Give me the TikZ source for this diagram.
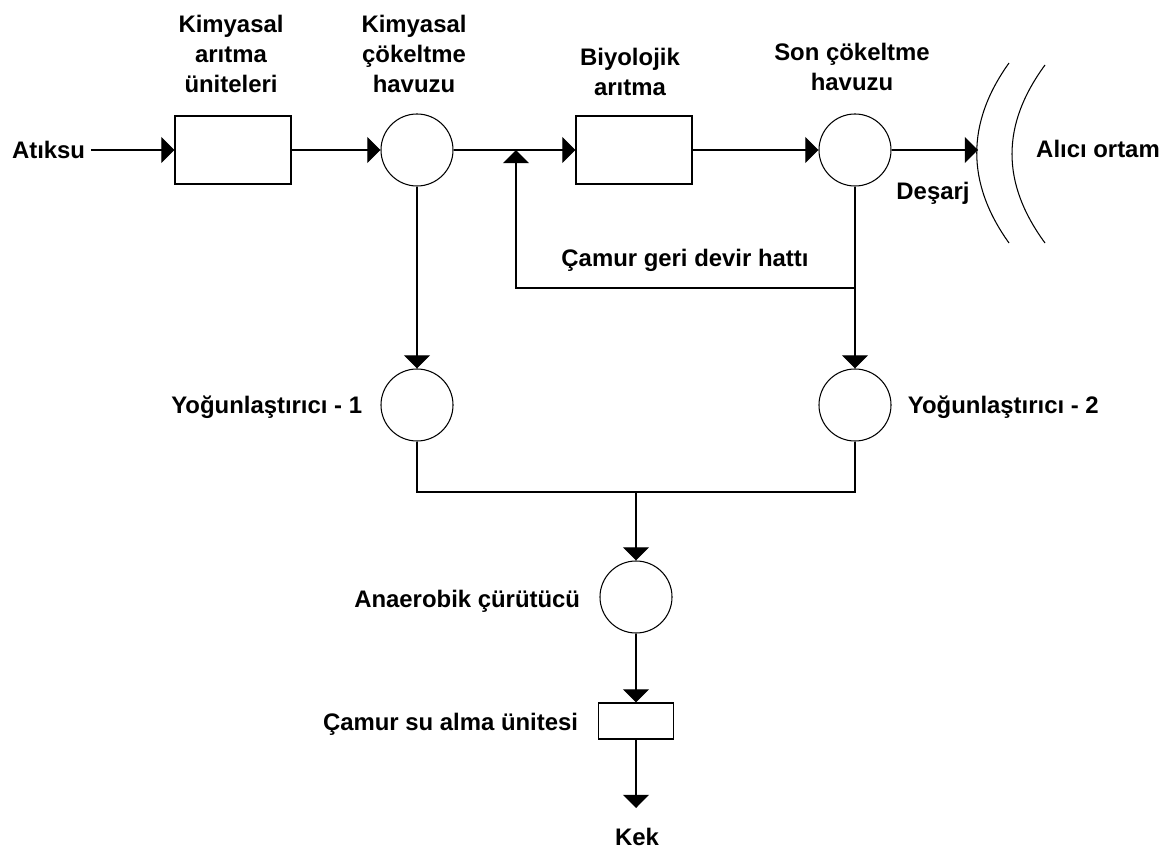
\documentclass[tikz,border=0pt]{standalone}
\usepackage{fontspec}
\setmainfont{Liberation Sans}
\usepackage{tikz}
\usetikzlibrary{arrows.meta}

\begin{document}
\begin{tikzpicture}[x=0.025cm, y=-0.025cm, every node/.style={font=\fontsize{17}{21.3}\selectfont\bfseries}]
    % Styles
    \tikzstyle{unit} = [rectangle, draw=black, line width=0.75pt, minimum width=2.9cm, minimum height=1.7cm, inner sep=0pt]
    \tikzstyle{tank} = [circle, draw=black, line width=0.75pt, minimum size=1.8cm, inner sep=0pt]
    \tikzstyle{lbl} = [inner sep=4pt, align=center]
    \tikzstyle{arrow} = [-{Triangle[width=0.65cm, length=0.33cm]}, line width=0.75pt]
    \tikzstyle{pipe} = [line width=0.75pt]

    \useasboundingbox (0,0) rectangle (1170,852);

    % Nodes - main line
    \node[lbl, anchor=east] (atiksu) at (91,150) {Atıksu};
    \node[unit] (U1) at (233,150) {};
    \node[tank] (T1) at (417,150) {};
    \coordinate (J) at (516,150);
    \node[unit] (B1) at (634,150) {};
    \node[tank] (T2) at (855,150) {};
    \coordinate (R) at (978,150);

    % Nodes - sludge line
    \coordinate (RET) at (855,288);
    \node[tank] (Y1) at (417,405) {};
    \node[tank] (Y2) at (855,405) {};
    \coordinate (M) at (636,492);
    \node[tank] (AC) at (636,597) {};
    \node[unit, minimum width=1.875cm, minimum height=0.9cm] (SA) at (636,721) {};
    \coordinate (K) at (636,808);

    % Labels
    \node[lbl, anchor=north] (lU1) at (231,9) {Kimyasal\\arıtma\\üniteleri};
    \node[lbl, anchor=north] (lT1) at (414,9) {Kimyasal\\çökeltme\\havuzu};
    \node[lbl, anchor=north] (lB1) at (630,42) {Biyolojik\\arıtma};
    \node[lbl, anchor=north] (lT2) at (852,37) {Son çökeltme\\havuzu};
    \node[lbl, anchor=base] (desarj) at (933,200) {Deşarj};
    \node[lbl, anchor=base] (alici) at (1098,158) {Alıcı ortam};
    \node[lbl, anchor=base] (geri) at (685,267) {Çamur geri devir hattı};
    \node[lbl, anchor=base east] (lY1) at (368,413) {Yoğunlaştırıcı - 1};
    \node[lbl, anchor=base west] (lY2) at (902,413) {Yoğunlaştırıcı - 2};
    \node[lbl, anchor=base east] (lAC) at (586,607) {Anaerobik çürütücü};
    \node[lbl, anchor=base east] (lSA) at (584,730) {Çamur su alma ünitesi};
    \node[lbl, anchor=base] (kek) at (637,845) {Kek};

    % Receiving water
    \draw[pipe] (1009,63) .. controls (966,123) and (966,183) .. (1009,243);
    \draw[pipe] (1045,65) .. controls (1001,125) and (1001,183) .. (1045,243);

    % Arrows
    \draw[arrow] (atiksu) -- (U1);
    \draw[arrow] (U1) -- (T1);
    \draw[pipe] (T1) -- (J);
    \draw[arrow] (J) -- (B1);
    \draw[arrow] (B1) -- (T2);
    \draw[arrow] (T2) -- (R);
    \draw[arrow] (RET) -| (J);
    \draw[arrow] (T1) -- (Y1);
    \draw[arrow] (T2) -- (Y2);
    \draw[pipe] (Y1.south) |- (M) -| (Y2.south);
    \draw[arrow] (M) -- (AC);
    \draw[arrow] (AC) -- (SA);
    \draw[arrow] (SA) -- (K);
\end{tikzpicture}
\end{document}
